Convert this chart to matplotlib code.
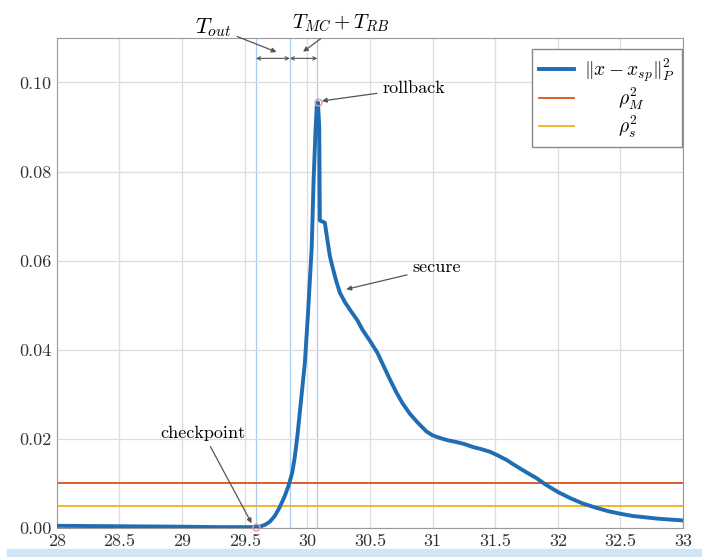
import matplotlib
matplotlib.use("Agg")
import matplotlib.pyplot as plt
from matplotlib.patches import Rectangle

plt.rcParams["font.family"] = "cmr10"
plt.rcParams["mathtext.fontset"] = "cm"
plt.rcParams["axes.unicode_minus"] = False
plt.rcParams["axes.formatter.use_mathtext"] = True

# distance to setpoint over time
t = [28.0, 28.5, 29.0, 29.3, 29.55, 29.62, 29.66, 29.70, 29.74, 29.78,
     29.82, 29.85, 29.88, 29.90, 29.92, 29.94, 29.96, 29.98, 30.005, 30.02,
     30.035, 30.05, 30.065, 30.075, 30.085, 30.095, 30.10, 30.12, 30.14, 30.16,
     30.18, 30.20, 30.23, 30.26, 30.30, 30.34, 30.40, 30.44, 30.50, 30.56,
     30.61, 30.66, 30.71, 30.76, 30.82, 30.88, 30.95, 31.0, 31.06, 31.12,
     31.19, 31.26, 31.32, 31.39, 31.46, 31.52, 31.59, 31.65, 31.72, 31.78,
     31.83, 31.9, 32.0, 32.1, 32.2, 32.3, 32.4, 32.5, 32.6, 32.7,
     32.8, 32.9, 33.0]
dist = [0.0005, 0.0004, 0.0003, 0.0002, 0.0002, 0.0003, 0.0007, 0.0014, 0.0027, 0.0047,
        0.0072, 0.0095, 0.0125, 0.016, 0.0205, 0.026, 0.0315, 0.037, 0.048, 0.0555,
        0.063, 0.078, 0.089, 0.0946, 0.0955, 0.090, 0.069, 0.0688, 0.0685, 0.0647,
        0.061, 0.0587, 0.0555, 0.0528, 0.0507, 0.049, 0.0466, 0.0445, 0.042, 0.0393,
        0.0363, 0.0333, 0.0305, 0.028, 0.0256, 0.0237, 0.0217, 0.0208, 0.0202, 0.0197,
        0.0193, 0.0188, 0.0182, 0.0177, 0.0171, 0.0163, 0.0153, 0.0142, 0.013, 0.012,
        0.0112, 0.0098, 0.0081, 0.0067, 0.0055, 0.0046, 0.0038, 0.0032, 0.0027, 0.0024,
        0.0021, 0.0019, 0.0017]

rho_M2 = 0.01
rho_s2 = 0.005

t_checkpoint = 29.59
t_out_end = 29.86
t_rollback = 30.08
peak_t = 30.085
peak_d = 0.0955

xticks = [28, 28.5, 29, 29.5, 30, 30.5, 31, 31.5, 32, 32.5, 33]
xticklabels = ["28", "28.5", "29", "29.5", "30", "30.5", "31", "31.5", "32", "32.5", "33"]
yticks = [0.0, 0.02, 0.04, 0.06, 0.08, 0.10]

fig = plt.figure(figsize=(7.02, 5.57), dpi=100)
ax = fig.add_axes([0.081, 0.052, 0.892, 0.88])

for xv in [t_checkpoint, t_out_end, t_rollback]:
    ax.axvline(xv, color="#a9cdee", lw=0.9, zorder=1)

ax.axhline(rho_M2, color="#D95319", lw=1.3, label=r"$\qquad\rho_M^2$", zorder=2)
ax.axhline(rho_s2, color="#EDB120", lw=1.3, label=r"$\qquad\rho_s^2$", zorder=2)
ax.plot(t, dist, color="#1f6db3", lw=2.8, label=r"$\|x-x_{sp}\|_P^2$", zorder=3,
        solid_joinstyle="round")

ax.plot([peak_t], [peak_d], "o", mfc="none", mec="#e89a9a", ms=5, zorder=4)
ax.plot([t_checkpoint], [0.0002], "o", mfc="none", mec="#e89a9a", ms=5, zorder=4,
        clip_on=False)

# time intervals at the top
y_arr = 0.1054
ax.annotate("", xy=(t_checkpoint, y_arr), xytext=(t_out_end, y_arr),
            arrowprops=dict(arrowstyle="<->", color="#555555", lw=0.8,
                            mutation_scale=6, shrinkA=0, shrinkB=0))
ax.annotate("", xy=(t_out_end, y_arr), xytext=(t_rollback, y_arr),
            arrowprops=dict(arrowstyle="<->", color="#555555", lw=0.8,
                            mutation_scale=6, shrinkA=0, shrinkB=0))

arrow = dict(arrowstyle="-|>", color="#555555", lw=0.9, mutation_scale=7,
             shrinkA=2, shrinkB=1)
ax.annotate(r"$T_{out}$", xy=(29.765, 0.1067), xytext=(29.25, 0.1124),
            ha="center", va="center", fontsize=16, arrowprops=arrow,
            annotation_clip=False)
ax.annotate(r"$T_{MC}+T_{RB}$", xy=(29.957, 0.1067), xytext=(30.27, 0.1132),
            ha="center", va="center", fontsize=15, arrowprops=arrow,
            annotation_clip=False)
ax.annotate("rollback", xy=(peak_t + 0.02, peak_d + 0.0003),
            xytext=(30.6, 0.0987), ha="left", va="center", fontsize=13,
            arrowprops=arrow)
ax.annotate("secure", xy=(30.3, 0.0535), xytext=(30.84, 0.0584),
            ha="left", va="center", fontsize=13, arrowprops=arrow)
ax.annotate("checkpoint", xy=(29.56, 0.0008), xytext=(29.17, 0.0212),
            ha="center", va="center", fontsize=13, arrowprops=arrow)

ax.set_xlim(28, 33)
ax.set_ylim(0, 0.11)
ax.set_xticks(xticks)
ax.set_xticklabels(xticklabels)
ax.set_yticks(yticks)
ax.set_yticklabels(["%.2f" % v for v in yticks])
ax.tick_params(labelsize=13, length=0, pad=4, colors="#333333")
ax.grid(True, color="#dddddd", lw=0.9)
for s in ax.spines.values():
    s.set_color("#999999")

handles, labels = ax.get_legend_handles_labels()
order = [2, 0, 1]
leg = ax.legend([handles[i] for i in order], [labels[i] for i in order],
                loc="upper right", bbox_to_anchor=(0.998, 0.977),
                fontsize=14, fancybox=False, edgecolor="#888888",
                framealpha=1, borderaxespad=0, handlelength=1.8,
                handletextpad=0.5, labelspacing=0.1, borderpad=0.35)

# light strip along the bottom edge
fig.patches.append(Rectangle((0.01, 0.0), 0.99, 0.014, transform=fig.transFigure,
                             color="#cfe6f8", zorder=0))

fig.savefig("out.png", dpi=100)
